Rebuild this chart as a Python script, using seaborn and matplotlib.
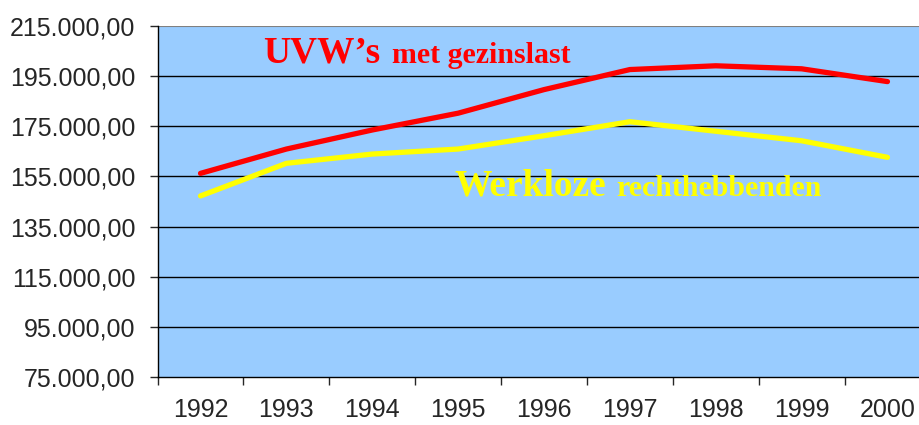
import numpy as np
import pandas as pd
import matplotlib
matplotlib.use("Agg")
import matplotlib.pyplot as plt
from matplotlib.ticker import FuncFormatter, FixedLocator
import seaborn as sns

# Data
years = ["1992", "1993", "1994", "1995", "1996", "1997", "1998", "1999", "2000"]
uvw_gezinslast = [156200, 165900, 173500, 180200, 189600, 197600, 199100, 197900, 192800]
werkloze = [147200, 160200, 163900, 165900, 171200, 176800, 173000, 169200, 162600]

df = pd.DataFrame({
    "jaar": years * 2,
    "aantal": uvw_gezinslast + werkloze,
    "reeks": ["UVW's met gezinslast"] * len(years) + ["Werkloze rechthebbenden"] * len(years),
})

sns.set_style("white")
plt.rcParams["font.family"] = ["Liberation Sans", "DejaVu Sans"]

fig = plt.figure(figsize=(9.2, 4.25), dpi=100)
ax = fig.add_axes([0.1713, 0.113, 0.84, 0.826])
ax.set_facecolor("#99CCFF")

sns.lineplot(data=df, x="jaar", y="aantal", hue="reeks",
             palette=["#FF0000", "#FFFF00"], linewidth=3.8,
             legend=False, ax=ax, zorder=3,
             solid_capstyle="round", solid_joinstyle="round")

ax.set_xlim(-0.5, len(years) - 0.5)
ax.set_ylim(75000, 215000)

# horizontal gridlines
yt = np.arange(75000, 215001, 20000)
ax.yaxis.set_major_locator(FixedLocator(yt))
for v in yt[1:-1]:
    ax.axhline(v, color="black", lw=1.0, zorder=1)
ax.axhline(215000, color="#808080", lw=1.5, zorder=1)

def nl_fmt(v, pos):
    s = f"{v:,.2f}"
    return s.replace(",", "X").replace(".", ",").replace("X", ".")

ax.yaxis.set_major_formatter(FuncFormatter(nl_fmt))

# category boundaries as major ticks, labels on minor ticks
ax.xaxis.set_major_locator(FixedLocator(np.arange(-0.5, len(years) - 0.5, 1.0)))
ax.xaxis.set_major_formatter(FuncFormatter(lambda v, p: ""))
ax.xaxis.set_minor_locator(FixedLocator(np.arange(len(years))))
ax.set_xticklabels(years, minor=True)

ax.tick_params(axis="y", which="major", direction="out", length=6, width=1,
               labelsize=18, pad=10, left=True)
ax.tick_params(axis="x", which="major", direction="out", length=6, width=1,
               bottom=True)
ax.tick_params(axis="x", which="minor", length=0, labelsize=18, pad=15)

ax.set_xlabel("")
ax.set_ylabel("")

for side in ["top", "right"]:
    ax.spines[side].set_visible(False)
ax.spines["left"].set_color("black")
ax.spines["bottom"].set_color("black")
ax.spines["left"].set_linewidth(1.0)
ax.spines["bottom"].set_linewidth(1.0)

# series labels
serif = ["Liberation Serif", "DejaVu Serif"]
ax.text(0.136, 0.895, "UVW\u2019s", transform=ax.transAxes, color="#FF0000",
        fontsize=27, fontweight="bold", family=serif, zorder=4)
ax.text(0.303, 0.895, "met gezinslast", transform=ax.transAxes, color="#FF0000",
        fontsize=21.5, fontweight="bold", family=serif, zorder=4)
ax.text(0.384, 0.516, "Werkloze", transform=ax.transAxes, color="#FFFF00",
        fontsize=27, fontweight="bold", family=serif, zorder=4)
ax.text(0.594, 0.516, "rechthebbenden", transform=ax.transAxes, color="#FFFF00",
        fontsize=21.5, fontweight="bold", family=serif, zorder=4)

fig.savefig("out.png", dpi=100, facecolor="white")
